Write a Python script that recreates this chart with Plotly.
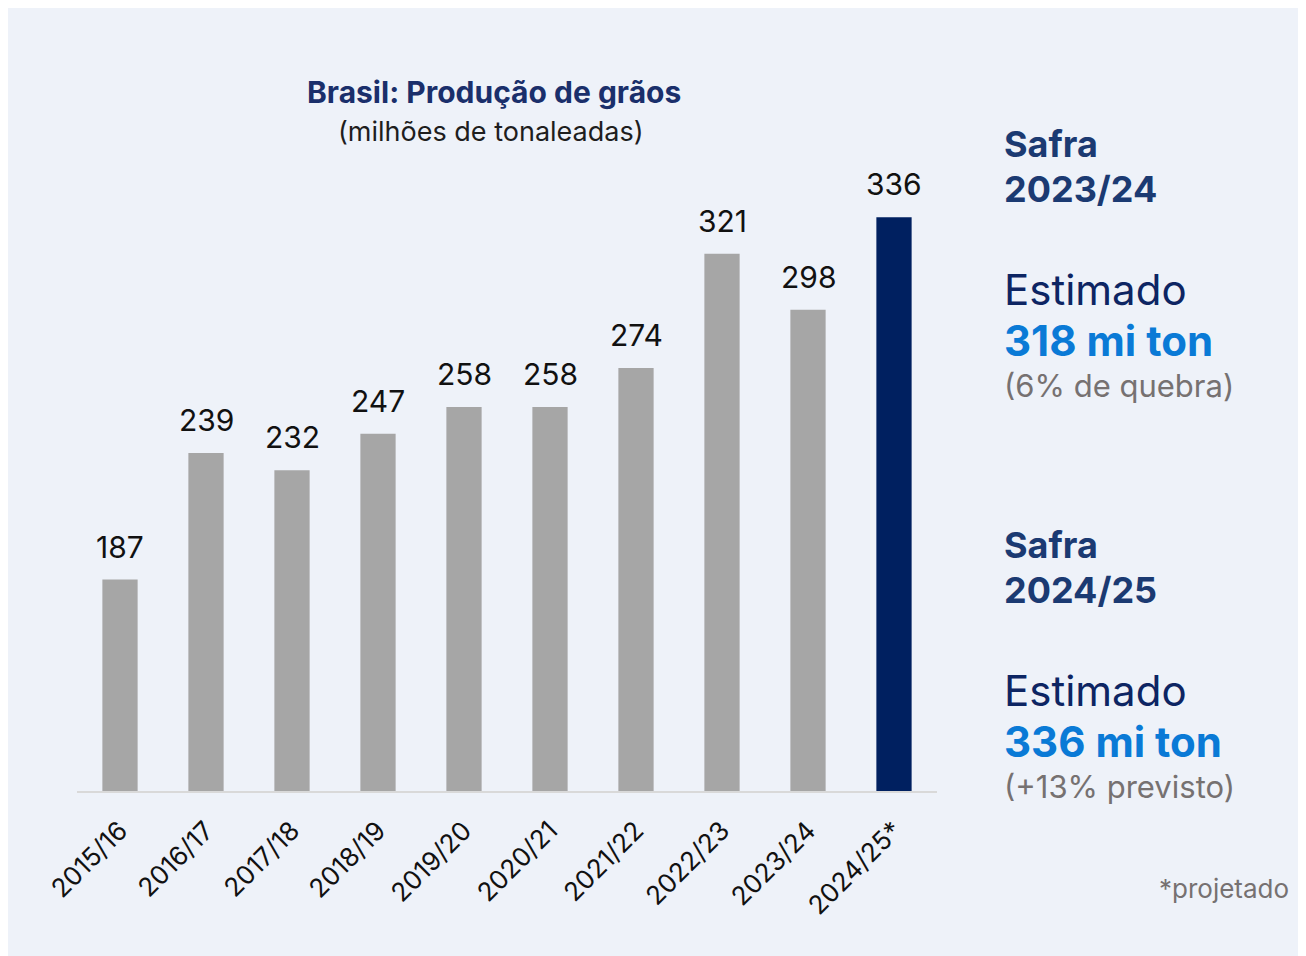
import plotly.graph_objects as go

categories = ["2015/16", "2016/17", "2017/18", "2018/19", "2019/20",
              "2020/21", "2021/22", "2022/23", "2023/24", "2024/25*"]
values = [187, 239, 232, 247, 258, 258, 274, 321, 298, 336]
value_labels = ["187", "239", "232", "247", "258", "258", "274", "321", "298", "336"]
bar_colors = ["#A6A6A6"] * 9 + ["#002060"]

# page body has an 8px margin; figure origin is at (8, 8) of the screenshot
OFF = 8
W, H = 1306 - OFF, 956 - OFF
L, R, T, B = 77 - OFF, 1306 - 937, 159 - OFF, 956 - 791
pw, ph = W - L - R, H - T - B

def px(x):
    return (x - OFF - L) / pw

def py(y):
    return (H - B - (y - OFF)) / ph

FONT = "Inter"

fig = go.Figure()
fig.add_trace(go.Bar(
    x=categories, y=values, marker=dict(color=bar_colors, line=dict(width=0)),
    width=0.41, hoverinfo="skip", showlegend=False,
))

for c, v, t in zip(categories, values, value_labels):
    fig.add_annotation(x=c, y=v, text=t, showarrow=False, yanchor="bottom",
                       yshift=13, font=dict(family=FONT, size=30, color="#111111"))

def txt(x, y, text, size, color, bold=False, xanchor="left"):
    fig.add_annotation(xref="paper", yref="paper", x=px(x), y=py(y),
                       text=(f"<b>{text}</b>" if bold else text),
                       showarrow=False, xanchor=xanchor, yanchor="middle",
                       font=dict(family=FONT, size=size, color=color))

txt(494, 92, "Brasil: Produção de grãos", 30, "#1A2F6B", bold=True, xanchor="center")
txt(491, 131, "(milhões de tonaleadas)", 27, "#1E1E1E", xanchor="center")

blocks = [
    (144, "Safra", "2023/24", "318 mi ton", "(6% de quebra)"),
    (545, "Safra", "2024/25", "336 mi ton", "(+13% previsto)"),
]
for y, a, b, c, d in blocks:
    txt(1002, y, a, 36, "#1B3A72", bold=True)
    txt(1002, y + 45, b, 36, "#1B3A72", bold=True)
    txt(1002, y + 145, "Estimado", 42, "#0D2563")
    txt(1002, y + 196, c, 42, "#0A7AD6", bold=True)
    txt(1002, y + 241, d, 31, "#767171")

txt(1291, 888, "*projetado", 26, "#767171", xanchor="right")

fig.update_layout(
    width=W, height=H, margin=dict(l=L, r=R, t=T, b=B, pad=0),
    paper_bgcolor="#EEF2F9", plot_bgcolor="rgba(0,0,0,0)",
    showlegend=False,
    xaxis=dict(showgrid=False, zeroline=False, showline=True, linecolor="#D9D9D9",
               linewidth=2, tickangle=-45, ticks="outside", ticklen=12,
               tickcolor="rgba(0,0,0,0)", range=[-0.5, 9.5],
               tickfont=dict(family=FONT, size=26, color="#111111")),
    yaxis=dict(range=[100, 360], visible=False, showgrid=False, zeroline=False),
)

fig.write_html("out.html")
